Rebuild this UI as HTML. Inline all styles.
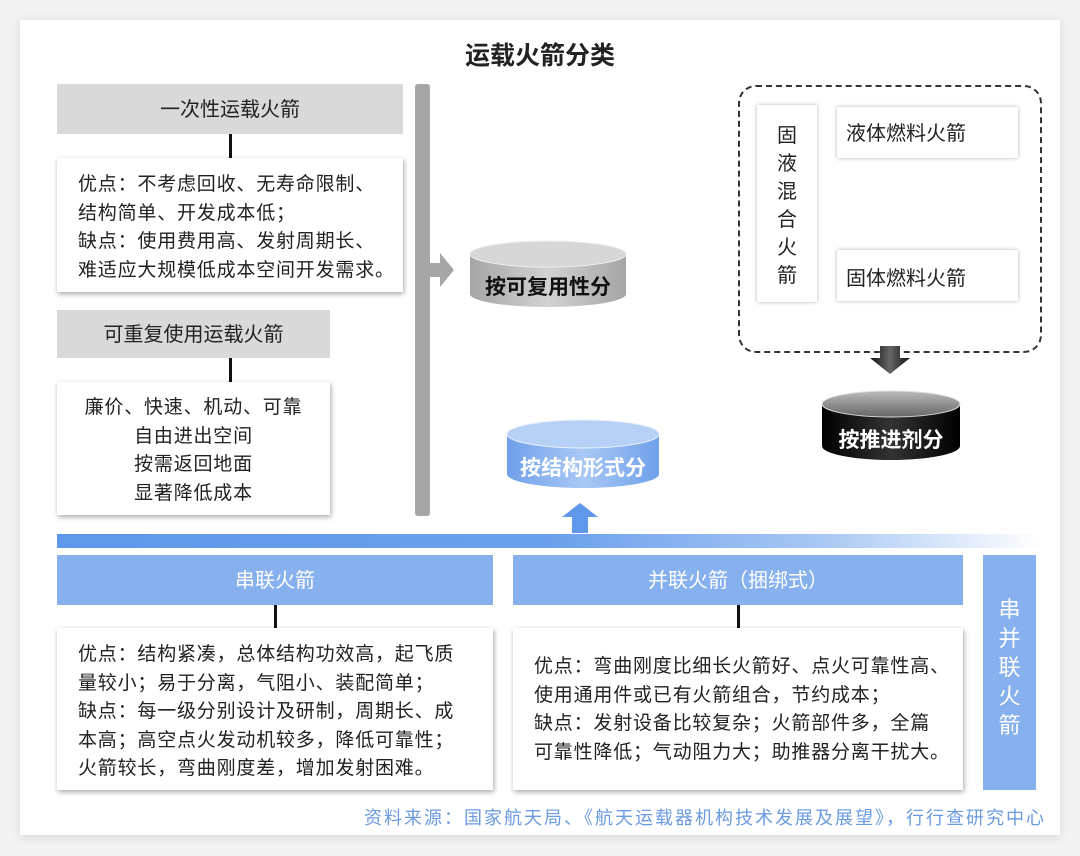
<!DOCTYPE html>
<html><head><meta charset="utf-8"><style>
*{margin:0;padding:0;box-sizing:border-box}
body{width:1080px;height:856px;background:#f3f3f3;position:relative;overflow:hidden;font-family:"Liberation Sans","Noto Sans CJK SC",sans-serif;color:#222}
.card{position:absolute;left:20px;top:20px;width:1040px;height:815px;background:#fff;box-shadow:0 2px 10px rgba(0,0,0,.12)}
.a{position:absolute}
.gh{background:#d9d9d9;font-size:20px;text-align:center;color:#222}
.wb{background:#fff;box-shadow:1px 2px 5px rgba(0,0,0,.35);font-size:19px;letter-spacing:.8px;line-height:28.5px}
.bh{background:#87b1ee;color:#fff;font-size:20px;text-align:center}
.ln{background:#111;width:3px}
</style></head><body>
<div class="card"></div>
<div class="a" style="left:0;width:1080px;top:36px;text-align:center;font-size:25px;font-weight:bold;">运载火箭分类</div>

<div class="a gh" style="left:57px;top:84px;width:346px;height:50px;line-height:52px">一次性运载火箭</div>
<div class="a ln" style="left:229px;top:134px;height:24px"></div>
<div class="a wb" style="left:57px;top:158px;width:346px;height:134px;padding:13px 0 0 21px">优点：不考虑回收、无寿命限制、<br>结构简单、开发成本低；<br>缺点：使用费用高、发射周期长、<br>难适应大规模低成本空间开发需求。</div>

<div class="a gh" style="left:57px;top:310px;width:273px;height:48px;line-height:50px">可重复使用运载火箭</div>
<div class="a ln" style="left:229px;top:358px;height:24px"></div>
<div class="a wb" style="left:57px;top:382px;width:273px;height:133px;padding:12px 0 0 0;text-align:center">廉价、快速、机动、可靠<br>自由进出空间<br>按需返回地面<br>显著降低成本</div>

<div class="a" style="left:415px;top:84px;width:15px;height:432px;background:#a6a6a6;border-radius:3px"></div>
<svg class="a" style="left:428px;top:250px" width="30" height="40"><polygon points="0,13 12,13 12,3 26,20 12,37 12,27 0,27" fill="#a6a6a6"/></svg>

<svg class="a" style="left:466px;top:238px" width="164" height="72">
<defs><linearGradient id="g1" x1="0" y1="0" x2="1" y2="0"><stop offset="0" stop-color="#a5a5a5"/><stop offset=".5" stop-color="#d2d2d2"/><stop offset="1" stop-color="#a5a5a5"/></linearGradient></defs>
<path d="M4,16 L4,56 A78,13 0 0 0 160,56 L160,16 Z" fill="url(#g1)"/>
<ellipse cx="82" cy="16" rx="78" ry="13" fill="#d7d7d7" stroke="#eee" stroke-width="1"/>
<text x="82" y="56" text-anchor="middle" font-size="21" font-weight="bold" fill="#111" font-family="Liberation Sans,Noto Sans CJK SC,sans-serif">按可复用性分</text>
</svg>

<svg class="a" style="left:504px;top:416px" width="158" height="76">
<defs><linearGradient id="g2" x1="0" y1="0" x2="1" y2="0"><stop offset="0" stop-color="#6fa0ea"/><stop offset=".5" stop-color="#a9c8f5"/><stop offset="1" stop-color="#6fa0ea"/></linearGradient></defs>
<path d="M3,18 L3,58 A76,14 0 0 0 155,58 L155,18 Z" fill="url(#g2)"/>
<ellipse cx="79" cy="18" rx="76" ry="14" fill="#b7d1f6" stroke="#e6f0ff" stroke-width="1"/>
<text x="79" y="59" text-anchor="middle" font-size="21" font-weight="bold" fill="#fff" font-family="Liberation Sans,Noto Sans CJK SC,sans-serif">按结构形式分</text>
</svg>
<svg class="a" style="left:560px;top:503px" width="40" height="30"><polygon points="20,0 38,14 28,14 28,30 12,30 12,14 2,14" fill="#5f98ea"/></svg>

<div class="a" style="left:57px;top:534px;width:985px;height:14px;background:linear-gradient(90deg,#5f98ea 0%,#6ba0ec 50%,#a9c8f4 78%,#fff 100%)"></div>

<div class="a bh" style="left:57px;top:555px;width:436px;height:50px;line-height:52px">串联火箭</div>
<div class="a bh" style="left:513px;top:555px;width:450px;height:50px;line-height:52px">并联火箭（捆绑式）</div>
<div class="a bh" style="left:983px;top:555px;width:53px;height:235px;padding-top:40px;line-height:29px;font-size:22px">串<br>并<br>联<br>火<br>箭</div>
<div class="a ln" style="left:274px;top:605px;height:23px"></div>
<div class="a ln" style="left:737px;top:605px;height:23px"></div>

<div class="a wb" style="left:57px;top:628px;width:436px;height:162px;padding:13px 0 0 21px">优点：结构紧凑，总体结构功效高，起飞质<br>量较小；易于分离，气阻小、装配简单；<br>缺点：每一级分别设计及研制，周期长、成<br>本高；高空点火发动机较多，降低可靠性；<br>火箭较长，弯曲刚度差，增加发射困难。</div>
<div class="a wb" style="left:513px;top:628px;width:450px;height:162px;padding:25px 0 0 21px">优点：弯曲刚度比细长火箭好、点火可靠性高、<br>使用通用件或已有火箭组合，节约成本；<br>缺点：发射设备比较复杂；火箭部件多，全篇<br>可靠性降低；气动阻力大；助推器分离干扰大。</div>

<div class="a" style="right:34px;top:804px;font-size:18px;color:#6a9be0;letter-spacing:2px;white-space:nowrap">资料来源：国家航天局、《航天运载器机构技术发展及展望》，行行查研究中心</div>

<div class="a" style="left:738px;top:85px;width:304px;height:268px;border:2px dashed #333;border-radius:18px"></div>
<div class="a" style="left:757px;top:105px;width:60px;height:197px;background:#fff;box-shadow:0 0 4px rgba(0,0,0,.3);text-align:center;font-size:20px;line-height:28px;padding-top:17px">固<br>液<br>混<br>合<br>火<br>箭</div>
<div class="a" style="left:837px;top:107px;width:181px;height:51px;background:#fff;box-shadow:0 0 4px rgba(0,0,0,.3);font-size:20px;padding:10px 0 0 9px">液体燃料火箭</div>
<div class="a" style="left:837px;top:250px;width:181px;height:51px;background:#fff;box-shadow:0 0 4px rgba(0,0,0,.3);font-size:20px;padding:12px 0 0 9px">固体燃料火箭</div>
<svg class="a" style="left:868px;top:346px" width="44" height="28">
<defs><linearGradient id="g3" x1="0" y1="0" x2="1" y2="0"><stop offset="0" stop-color="#111"/><stop offset=".5" stop-color="#666"/><stop offset="1" stop-color="#111"/></linearGradient></defs>
<polygon points="12,0 32,0 32,12 42,12 22,28 2,12 12,12" fill="url(#g3)"/></svg>
<svg class="a" style="left:819px;top:388px" width="144" height="76">
<defs><linearGradient id="g4" x1="0" y1="0" x2="1" y2="0"><stop offset="0" stop-color="#000"/><stop offset=".5" stop-color="#333"/><stop offset="1" stop-color="#000"/></linearGradient>
<linearGradient id="g5" x1="0" y1="0" x2="0" y2="1"><stop offset="0" stop-color="#bbb"/><stop offset="1" stop-color="#666"/></linearGradient></defs>
<path d="M3,16 L3,58 A69,14 0 0 0 141,58 L141,16 Z" fill="url(#g4)"/>
<ellipse cx="72" cy="16" rx="69" ry="13" fill="url(#g5)" stroke="#ddd" stroke-width="1"/>
<text x="72" y="59" text-anchor="middle" font-size="21" font-weight="bold" fill="#fff" font-family="Liberation Sans,Noto Sans CJK SC,sans-serif">按推进剂分</text>
</svg>
</body></html>
